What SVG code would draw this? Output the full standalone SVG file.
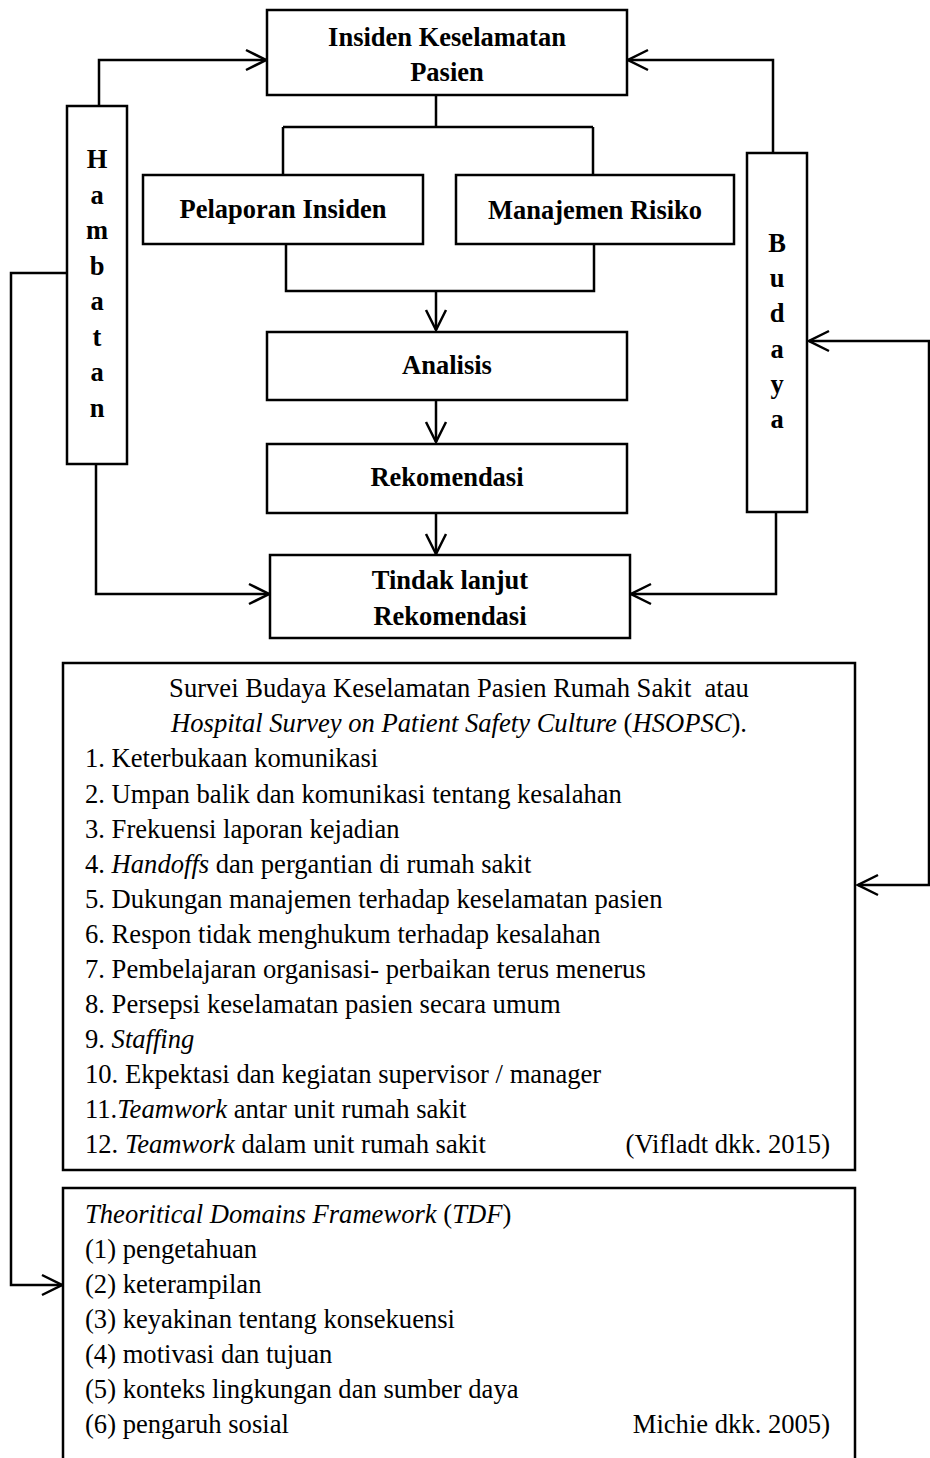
<svg xmlns="http://www.w3.org/2000/svg" width="930" height="1458" viewBox="0 0 930 1458">
<style>
.box{fill:#fff;stroke:#000;stroke-width:2.5}
.ln{fill:none;stroke:#000;stroke-width:2.5}
.b{font-family:"Liberation Serif","Times New Roman",serif;font-weight:bold;font-size:26.5px;fill:#000;text-anchor:middle}
.t{font-family:"Liberation Serif","Times New Roman",serif;font-size:26.6px;fill:#000}
.i{font-style:italic}
</style>
<defs>
<marker id="ah" markerUnits="userSpaceOnUse" viewBox="-22 -12 24 24" refX="0" refY="0" markerWidth="24" markerHeight="24" orient="auto-start-reverse">
<path d="M-20,-10 L0,0 L-20,10" fill="none" stroke="#000" stroke-width="2.5"/>
</marker>
</defs>
<rect width="930" height="1458" fill="#fff"/>

<g id="connectors">
<path class="ln" d="M99,106 V60 H266" marker-end="url(#ah)"/>
<path class="ln" d="M96,464 V594 H269" marker-end="url(#ah)"/>
<path class="ln" d="M67,273 H11 V1285 H62" marker-end="url(#ah)"/>
<path class="ln" d="M773,153 V60 H628" marker-end="url(#ah)"/>
<path class="ln" d="M776,512 V594 H631" marker-end="url(#ah)"/>
<path class="ln" d="M809,341 H929 V885 H858" marker-start="url(#ah)" marker-end="url(#ah)"/>
<path class="ln" d="M436,95 V127 M283,127 H593 M283,127 V175 M593,127 V175"/>
<path class="ln" d="M286,244 V291 H594 V244"/>
<path class="ln" d="M436,291 V330" marker-end="url(#ah)"/>
<path class="ln" d="M436,400 V442" marker-end="url(#ah)"/>
<path class="ln" d="M436,513 V554" marker-end="url(#ah)"/>
</g>

<g id="insiden">
<rect class="box" x="267" y="10" width="360" height="85"/>
<text class="b" x="447" y="46">Insiden Keselamatan</text>
<text class="b" x="447" y="81">Pasien</text>
</g>

<g id="pelaporan">
<rect class="box" x="143" y="175" width="280" height="69"/>
<text class="b" x="283" y="218">Pelaporan Insiden</text>
</g>

<g id="manajemen">
<rect class="box" x="456" y="175" width="278" height="69"/>
<text class="b" x="595" y="219">Manajemen Risiko</text>
</g>

<g id="analisis">
<rect class="box" x="267" y="332" width="360" height="68"/>
<text class="b" x="447" y="374">Analisis</text>
</g>

<g id="rekomendasi">
<rect class="box" x="267" y="444" width="360" height="69"/>
<text class="b" x="447" y="486">Rekomendasi</text>
</g>

<g id="tindak">
<rect class="box" x="270" y="555" width="360" height="83"/>
<text class="b" x="450" y="589">Tindak lanjut</text>
<text class="b" x="450" y="625">Rekomendasi</text>
</g>

<g id="hambatan">
<rect class="box" x="67" y="106" width="60" height="358"/>
<text class="b" x="97" y="168">H</text>
<text class="b" x="97" y="204">a</text>
<text class="b" x="97" y="239">m</text>
<text class="b" x="97" y="275">b</text>
<text class="b" x="97" y="310">a</text>
<text class="b" x="97" y="346">t</text>
<text class="b" x="97" y="381">a</text>
<text class="b" x="97" y="417">n</text>
</g>

<g id="budaya">
<rect class="box" x="747" y="153" width="60" height="359"/>
<text class="b" x="777" y="252">B</text>
<text class="b" x="777" y="287">u</text>
<text class="b" x="777" y="322">d</text>
<text class="b" x="777" y="358">a</text>
<text class="b" x="777" y="393">y</text>
<text class="b" x="777" y="428">a</text>
</g>

<g id="hsopsc">
<rect class="box" x="63" y="663" width="792" height="507"/>
<text class="t" x="459" y="697" text-anchor="middle" xml:space="preserve">Survei Budaya Keselamatan Pasien Rumah Sakit  atau</text>
<text class="t" x="459" y="732" text-anchor="middle"><tspan class="i">Hospital Survey on Patient Safety Culture</tspan> (<tspan class="i">HSOPSC</tspan>).</text>
<text class="t" x="85" y="767">1. Keterbukaan komunikasi</text>
<text class="t" x="85" y="803">2. Umpan balik dan komunikasi tentang kesalahan</text>
<text class="t" x="85" y="838">3. Frekuensi laporan kejadian</text>
<text class="t" x="85" y="873">4. <tspan class="i">Handoffs</tspan> dan pergantian di rumah sakit</text>
<text class="t" x="85" y="908">5. Dukungan manajemen terhadap keselamatan pasien</text>
<text class="t" x="85" y="943">6. Respon tidak menghukum terhadap kesalahan</text>
<text class="t" x="85" y="978">7. Pembelajaran organisasi- perbaikan terus menerus</text>
<text class="t" x="85" y="1013">8. Persepsi keselamatan pasien secara umum</text>
<text class="t" x="85" y="1048">9. <tspan class="i">Staffing</tspan></text>
<text class="t" x="85" y="1083">10. Ekpektasi dan kegiatan supervisor / manager</text>
<text class="t" x="85" y="1118">11.<tspan class="i">Teamwork</tspan> antar unit rumah sakit</text>
<text class="t" x="85" y="1153">12. <tspan class="i">Teamwork</tspan> dalam unit rumah sakit</text>
<text class="t" x="830" y="1153" text-anchor="end">(Vifladt dkk. 2015)</text>
</g>

<g id="tdf">
<path class="ln" d="M63,1470 V1188 H855 V1470"/>
<text class="t" x="85" y="1223"><tspan class="i">Theoritical Domains Framework</tspan> (<tspan class="i">TDF</tspan>)</text>
<text class="t" x="85" y="1258">(1) pengetahuan</text>
<text class="t" x="85" y="1293">(2) keterampilan</text>
<text class="t" x="85" y="1328">(3) keyakinan tentang konsekuensi</text>
<text class="t" x="85" y="1363">(4) motivasi dan tujuan</text>
<text class="t" x="85" y="1398">(5) konteks lingkungan dan sumber daya</text>
<text class="t" x="85" y="1433">(6) pengaruh sosial</text>
<text class="t" x="830" y="1433" text-anchor="end">Michie dkk. 2005)</text>
</g>
</svg>
